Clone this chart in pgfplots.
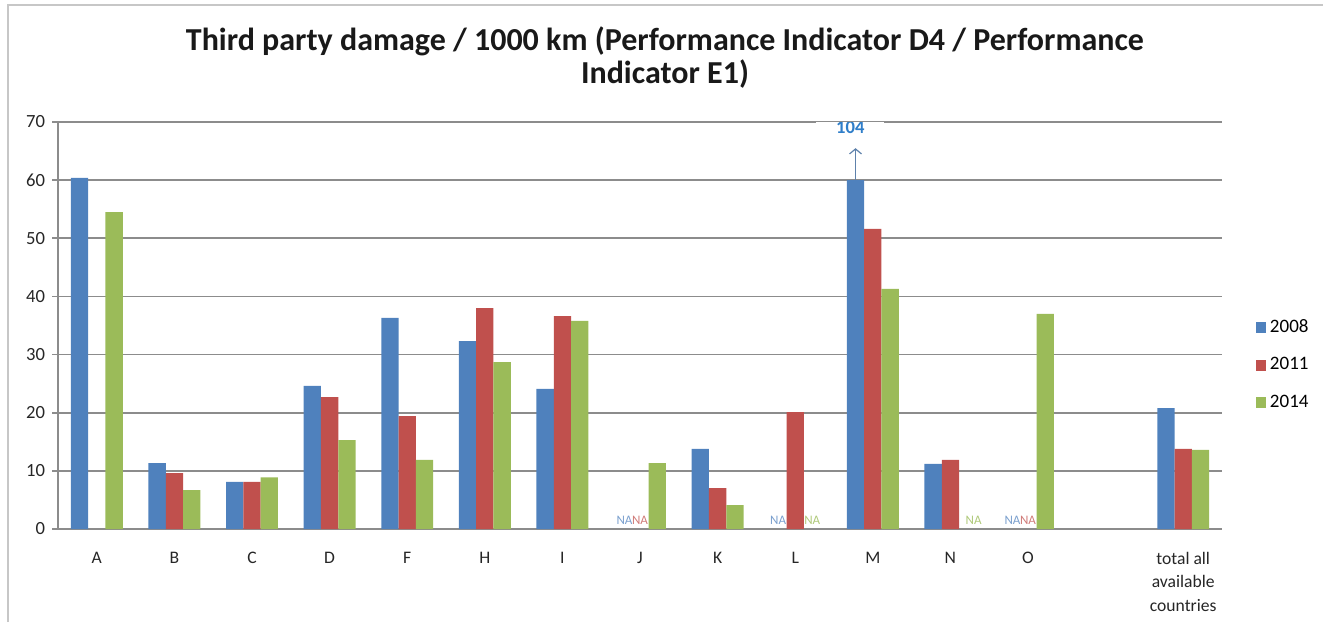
\documentclass[border=0pt]{standalone}
\usepackage{pgfplots}
\pgfplotsset{compat=1.18}
\usepackage{fontspec}
\setmainfont{Carlito}
\usetikzlibrary{arrows.meta}
\definecolor{c08}{HTML}{4F81BD}
\definecolor{c11}{HTML}{C0504D}
\definecolor{c14}{HTML}{9BBB59}
\definecolor{gridc}{HTML}{8C8C8C}
\definecolor{lbl}{HTML}{2F7EC9}
\begin{document}
\begin{tikzpicture}[x=1pt,y=1pt]
\useasboundingbox (-29,-46.5) rectangle (632.5,264.5);
\draw[color=black!22,line width=1.2pt] (-25,-46.5) -- (-25,262) -- (632.5,262);
\begin{axis}[
  at={(0,0)}, anchor=south west,
  scale only axis, width=582pt, height=203.5pt,
  xmin=-0.5, xmax=14.5, ymin=0, ymax=70,
  ybar=0pt, bar width=8.65pt,
  axis x line*=bottom, axis y line*=left,
  axis line style={gridc, line width=0.8pt},
  xtick={0,1,2,3,4,5,6,7,8,9,10,11,12,14},
  xticklabels={A,B,C,D,F,H,I,J,K,L,M,N,O,{total all\\available\\countries}},
  xtick style={draw=none},
  xticklabel style={font=\fontsize{8.8}{11.7}\selectfont, align=center, yshift=-5pt, text=black!85},
  ytick={0,10,...,70},
  ytick style={gridc, line width=0.8pt},
  tick align=outside, major tick length=3pt,
  yticklabel style={font=\fontsize{9.3}{10}\selectfont, text=black!85, xshift=0pt},
  /pgf/number format/assume math mode=true,
  ymajorgrids, grid style={gridc, line width=0.8pt},
  legend style={at={(1.0285,0.403)}, anchor=west, draw=none, fill=none,
    font=\fontsize{9.5}{11}\selectfont, row sep=7pt, inner sep=0pt},
  legend cell align=left,
  legend image code/.code={\fill[#1] (0pt,-2.6pt) rectangle (5.2pt,2.6pt);},
]
\addplot[fill=c08, draw=none] coordinates {(0,60.4) (1,11.35) (2,8.1) (3,24.6) (4,36.3) (5,32.3) (6,24.1) (8,13.8) (10,60) (11,11.2) (14,20.8)};
\addplot[fill=c11, draw=none] coordinates {(1,9.6) (2,8.1) (3,22.7) (4,19.4) (5,38.0) (6,36.6) (8,7.05) (9,20.1) (10,51.6) (11,11.9) (14,13.8)};
\addplot[fill=c14, draw=none] coordinates {(0,54.5) (1,6.7) (2,8.9) (3,15.3) (4,11.9) (5,28.7) (6,35.8) (7,11.35) (8,4.1) (10,41.3) (12,37.0) (14,13.6)};
\legend{2008,2011,2014}
% NA labels
\tikzset{na/.style={font=\fontsize{6.5}{7}\selectfont, inner sep=0pt}}
\node[na, text=c08!75] at (axis cs:6.8,1.5) {NA};
\node[na, text=c11!75] at (axis cs:7.0,1.5) {NA};
\node[na, text=c08!75] at (axis cs:8.78,1.5) {NA};
\node[na, text=c14!80] at (axis cs:9.22,1.5) {NA};
\node[na, text=c14!80] at (axis cs:11.3,1.5) {NA};
\node[na, text=c08!75] at (axis cs:11.8,1.5) {NA};
\node[na, text=c11!75] at (axis cs:12.0,1.5) {NA};
% truncated bar annotation
\draw[color=c08!70!gray, line width=0.6pt, -{Straight Barb[length=2.5pt,width=6pt]}] (axis cs:9.777,60) -- (axis cs:9.777,65.5);
\node[fill=white, minimum width=34pt, minimum height=9pt, inner sep=1pt, text=lbl, font=\bfseries\fontsize{9.3}{10}\selectfont] at (axis cs:9.71,69) {104};
\end{axis}
\node[font=\bfseries\fontsize{16}{16.5}\selectfont, align=center, text=black!90] at (303.5,235.5) {Third party damage / 1000 km (Performance Indicator D4 / Performance\\Indicator E1)};
\end{tikzpicture}
\end{document}
